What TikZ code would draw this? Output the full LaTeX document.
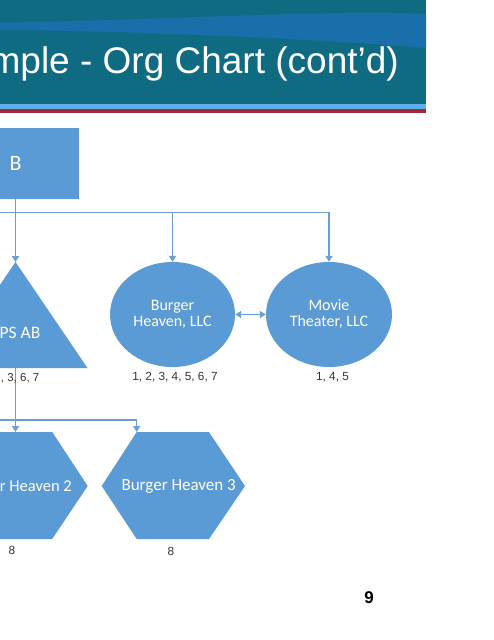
\documentclass[tikz,border=0pt]{standalone}
\usepackage{fontspec}
\setmainfont{Liberation Sans}
\newfontfamily\calib{Carlito}
\usetikzlibrary{shapes.geometric,arrows.meta}
\definecolor{hdr}{HTML}{0E6B82}
\definecolor{wave}{HTML}{1A6FAA}
\definecolor{stripeblue}{HTML}{5FB0E6}
\definecolor{stripered}{HTML}{A3283A}
\definecolor{shapeblue}{HTML}{5B9BD5}
\definecolor{lineblue}{HTML}{6A9FD6}
\definecolor{lbltext}{HTML}{333333}
\begin{document}
\begin{tikzpicture}[x=1pt,y=-1pt,
  conn/.style={draw=lineblue, line width=1.5pt},
  arr/.style={conn,-{Triangle[width=7pt,length=6pt]}},
  dbl/.style={conn,{Triangle[width=7pt,length=6pt]}-{Triangle[width=7pt,length=6pt]}},
  shapefill/.style={fill=shapeblue, draw=none},
  intext/.style={text=white, font=\calib\fontsize{16}{16}\selectfont, align=center},
  lbl/.style={font=\fontsize{11.8}{12}\selectfont, text=lbltext, inner sep=0}
]
\useasboundingbox (0,0) rectangle (494,640);
\clip (0,0) rectangle (494,640);
\fill[white] (0,0) rectangle (494,640);
% header
\fill[hdr] (0,0) rectangle (426,104);
\fill[wave] (0,23) .. controls (150,20) and (330,10) .. (426,14) -- (426,48) .. controls (330,40) and (150,31) .. (0,30) -- cycle;
\fill[stripeblue] (0,104) rectangle (426,109);
\fill[stripered] (0,109) rectangle (426,112.5);
\node[anchor=base east, text=white, font=\fontsize{37}{37}\selectfont, inner sep=0] (title) at (399,73) {mple - Org Chart (cont’d)};

% top box
\node[shapefill, minimum width=127pt, minimum height=71pt, inner sep=0, text=white, font=\calib\fontsize{22}{22}\selectfont] (B) at (15.5,163.5) {B};

% triangle
\fill[shapeblue] (15.5,262) -- (87.5,368) -- (-56.5,368) -- cycle;
\coordinate (triTop) at (15.5,262);
\coordinate (triBot) at (15.5,368);
\node[intext, font=\calib\fontsize{17.5}{17.5}\selectfont, anchor=east, inner sep=0] (psab) at (40.5,333) {PS AB};

% ellipses
\node[ellipse, shapefill, minimum width=125pt, minimum height=105pt, inner sep=0, intext] (bh) at (172.5,314.5) {Burger\\Heaven, LLC};
\node[ellipse, shapefill, minimum width=126pt, minimum height=105pt, inner sep=0, intext] (mv) at (329,314.5) {Movie\\Theater, LLC};

% hexagons
\fill[shapeblue] (-55.6,486) -- (-20.6,432) -- (52.2,432) -- (87.7,486) -- (52.2,539) -- (-20.6,539) -- cycle;
\fill[shapeblue] (101.7,486) -- (136.7,432) -- (209,432) -- (245,486) -- (209,539) -- (136.7,539) -- cycle;
\coordinate (h2top) at (15.5,432);
\coordinate (h3top) at (136.7,432);
\node[intext, font=\calib\fontsize{16.5}{16.5}\selectfont, anchor=east, inner sep=0] (h2) at (72,486) {r Heaven 2};
\node[intext, font=\calib\fontsize{17}{17}\selectfont, anchor=east, inner sep=0] (h3) at (236,486) {Burger Heaven 3};

% connectors
\coordinate (j1) at (0,212.5);
\coordinate (j2) at (0,420);
\draw[arr] (B.south) -- (triTop);
\draw[arr] (j1) -| (mv.north);
\draw[arr] (bh.north |- j1) -- (bh.north);
\draw[dbl] (bh.east) -- (mv.west);
\draw[conn] (triBot) -- (triBot |- j2);
\draw[arr] (j2) -| (h3top);
\draw[arr] (triBot |- j2) -- (h2top);

% labels
\node[lbl, anchor=east, font=\fontsize{11.5}{12}\selectfont] (l0) at (39.5,378) {, 3, 6, 7};
\node[lbl] (l1) at (175,377) {1, 2, 3, 4, 5, 6, 7};
\node[lbl] (l2) at (332.5,377) {1, 4, 5};
\node[lbl] (l3) at (12,550) {8};
\node[lbl] (l4) at (171,551) {8};

% page number
\node[font=\bfseries\fontsize{17}{17}\selectfont, inner sep=0] (pg) at (369,598) {9};
\end{tikzpicture}
\end{document}
